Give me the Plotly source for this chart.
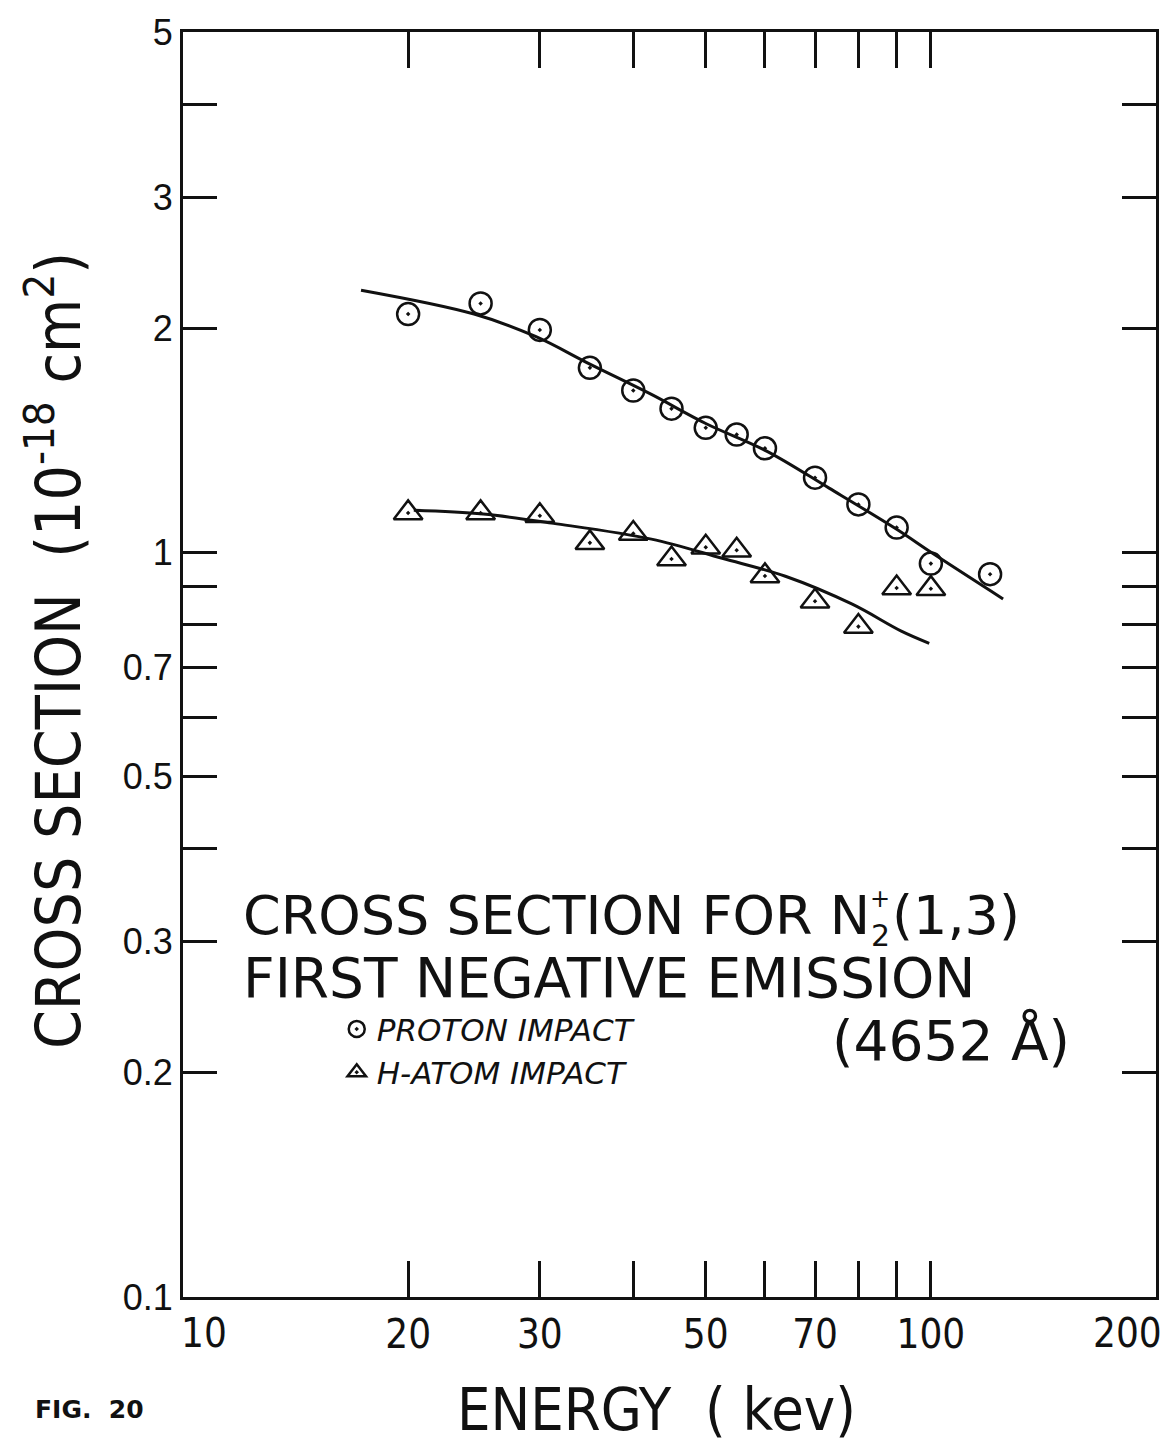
import math
import plotly.graph_objects as go

# ---- data ----
proton_energy = [20, 25, 30, 35, 40, 45, 50, 55, 60, 70, 80, 90, 100, 120]
proton_xsec = [2.09, 2.16, 1.99, 1.77, 1.65, 1.56, 1.47, 1.44, 1.38, 1.26, 1.16, 1.08, 0.966, 0.935]

hatom_energy = [20, 25, 30, 35, 40, 45, 50, 55, 60, 70, 80, 90, 100]
hatom_xsec = [1.13, 1.13, 1.12, 1.03, 1.06, 0.98, 1.016, 1.007, 0.93, 0.86, 0.795, 0.896, 0.894]

proton_curve_energy = [17.3, 24.5, 29.6, 35.0, 42.3, 50.0, 60.4, 73.1, 89.9, 100.4, 124.9]
proton_curve_xsec = [2.25, 2.09, 1.95, 1.79, 1.63, 1.49, 1.367, 1.22, 1.075, 0.998, 0.866]

hatom_curve_energy = [20.35, 25.2, 31.3, 42.3, 52.6, 63.9, 78.5, 91.3, 99.5]
hatom_curve_xsec = [1.139, 1.126, 1.094, 1.042, 0.982, 0.929, 0.852, 0.784, 0.755]

x_tickvals = [10, 20, 30, 40, 50, 60, 70, 80, 90, 100, 200]
x_ticktext = ["", "20", "30", "", "50", "", "70", "", "", "100", ""]
x_end_labels = [(10, "10"), (200, "200")]
y_tickvals = [0.1, 0.2, 0.3, 0.4, 0.5, 0.6, 0.7, 0.8, 0.9, 1, 2, 3, 4, 5]
y_ticktext = ["0.1", "0.2", "0.3", "", "0.5", "", "0.7", "", "", "1", "2", "3", "", "5"]

BLACK = "#111111"
COND = "DejaVu Sans Condensed, Liberation Sans Narrow, Arial Narrow, sans-serif"
WIDE = "DejaVu Sans, Verdana, sans-serif"

fig = go.Figure()

fig.add_trace(go.Scatter(x=proton_curve_energy, y=proton_curve_xsec, mode="lines",
                         line=dict(color=BLACK, width=3, shape="spline", smoothing=1.0),
                         showlegend=False, hoverinfo="skip"))
fig.add_trace(go.Scatter(x=hatom_curve_energy, y=hatom_curve_xsec, mode="lines",
                         line=dict(color=BLACK, width=3, shape="spline", smoothing=1.0),
                         showlegend=False, hoverinfo="skip"))

fig.add_trace(go.Scatter(x=proton_energy, y=proton_xsec, mode="markers",
                         name="<i>PROTON IMPACT</i>",
                         marker=dict(symbol="circle-open-dot", size=22, color=BLACK,
                                     line=dict(width=2.5, color=BLACK))))
fig.add_trace(go.Scatter(x=hatom_energy, y=hatom_xsec, mode="markers",
                         name="<i>H-ATOM IMPACT</i>",
                         marker=dict(symbol="triangle-up-open-dot", size=25, color=BLACK,
                                     line=dict(width=2.5, color=BLACK))))

fig.update_layout(
    width=1171, height=1443,
    margin=dict(l=183, r=14, t=30, b=146),
    paper_bgcolor="white", plot_bgcolor="white",
    showlegend=True,
    legend=dict(x=0.158, y=0.233, xanchor="left", yanchor="top",
                bgcolor="rgba(0,0,0,0)", borderwidth=0,
                font=dict(family=WIDE, size=31, color=BLACK),
                itemsizing="trace", tracegroupgap=0),
    xaxis=dict(type="log", range=[1, 2.30103], tickvals=x_tickvals, ticktext=x_ticktext,
               ticks="inside", ticklen=36, tickwidth=2.5, tickcolor=BLACK,
               showline=True, linewidth=3, linecolor=BLACK, mirror="ticks",
               showgrid=False, zeroline=False,
               tickfont=dict(family=COND, size=40, color=BLACK)),
    yaxis=dict(type="log", range=[-1, 0.69897], tickvals=y_tickvals, ticktext=y_ticktext,
               ticks="inside", ticklen=34, tickwidth=2.5, tickcolor=BLACK,
               showline=True, linewidth=3, linecolor=BLACK, mirror="ticks",
               showgrid=False, zeroline=False,
               tickfont=dict(family="Liberation Sans, Arial, sans-serif", size=36, color=BLACK)),
)

annotations = [
    dict(text="CROSS SECTION FOR N", x=0.0595, y=0.3015,
         xanchor="left", yanchor="middle", font=dict(family=WIDE, size=54, color=BLACK)),
    dict(text="2", x=(881 - 183) / 974, y=(1297 - 934) / 1267, height=26, valign="middle",
         xanchor="center", yanchor="middle", font=dict(family=WIDE, size=30, color=BLACK)),
    dict(text="+", x=(881 - 183) / 974, y=(1297 - 898) / 1267,
         xanchor="center", yanchor="middle", font=dict(family=WIDE, size=24, color=BLACK)),
    dict(text="(1,3)", x=(1023 - 183) / 974, y=0.3015,
         xanchor="right", yanchor="middle", font=dict(family=WIDE, size=54, color=BLACK)),
    dict(text="FIRST NEGATIVE EMISSION", x=0.0595, y=0.2518, height=50, valign="middle",
         xanchor="left", yanchor="middle", font=dict(family=WIDE, size=55, color=BLACK)),
    dict(text="(4652 Å)", x=(1073 - 183) / 974, y=0.2028,
         xanchor="right", yanchor="middle", font=dict(family=WIDE, size=55, color=BLACK)),
    dict(text="CROSS SECTION  (10<sup>-18</sup> cm<sup>2</sup>)", x=-0.1314, y=0.5107,
         textangle=-90, xanchor="center", yanchor="middle",
         font=dict(family=COND, size=62, color=BLACK)),
    dict(text="ENERGY  ( kev)", x=0.4867, y=-0.0892, xanchor="center", yanchor="middle",
         font=dict(family=COND, size=59, color=BLACK)),
    dict(text="<b>FIG.  20</b>", x=(33 - 183) / 974, y=-0.0892, xanchor="left", yanchor="middle",
         font=dict(family="DejaVu Sans, sans-serif", size=25, color=BLACK)),
]
for a in annotations:
    a.update(xref="paper", yref="paper", showarrow=False)

# end tick labels (10 and 200) placed on the x axis scale so they stay inside the page
tick_label_y = (1297 - 1333) / 1267
for val, label in x_end_labels:
    annotations.append(dict(text=label, x=math.log10(val), xref="x", y=tick_label_y, yref="paper",
                            xanchor="left" if val == x_tickvals[0] else "right",
                            xshift=-4 if val == x_tickvals[0] else 8,
                            yanchor="middle", showarrow=False,
                            font=dict(family=COND, size=40, color=BLACK)))
fig.update_layout(annotations=annotations)

fig.write_html("out.html")
